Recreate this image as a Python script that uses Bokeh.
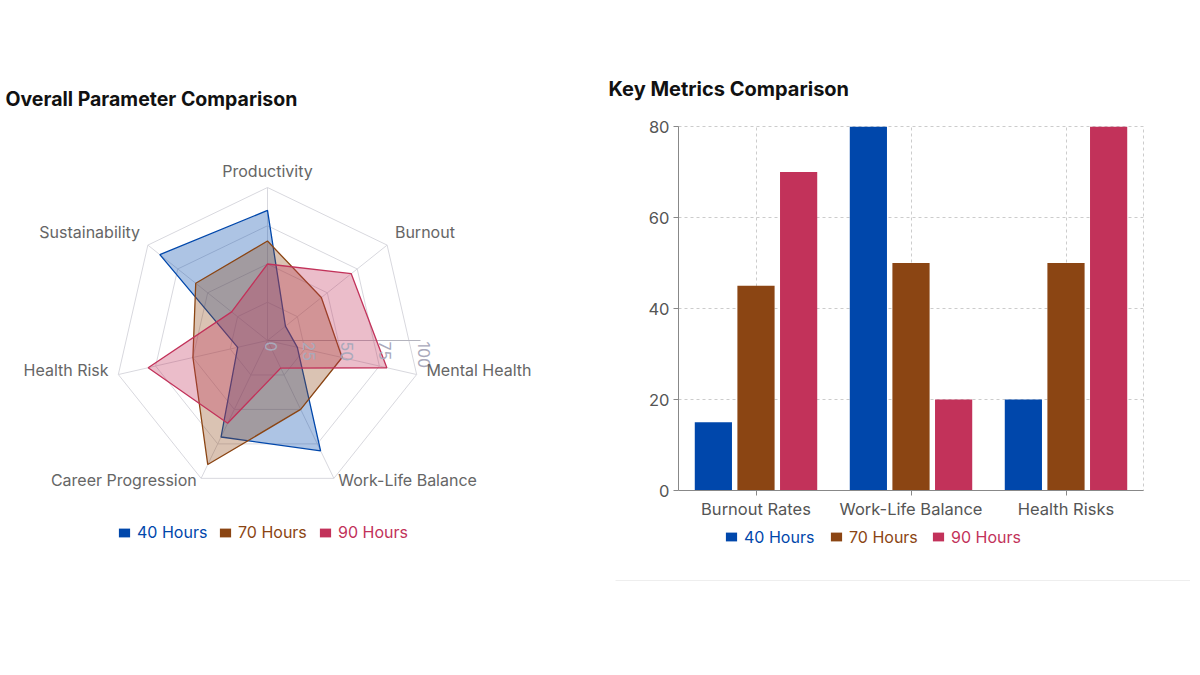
import math
from bokeh.plotting import figure
from bokeh.models import (ColumnDataSource, FactorRange, Legend, LegendItem,
                          Range1d, FixedTicker)
from bokeh.transform import dodge
from bokeh.layouts import row, column
from bokeh.core.properties import value
from bokeh.embed import file_html
from bokeh.resources import INLINE

# ---------------- data ----------------
series_names = ["40 Hours", "70 Hours", "90 Hours"]
series_colors = ["#0047AB", "#8B4513", "#C2325A"]

radar_categories = ["Productivity", "Burnout", "Mental Health", "Work-Life Balance",
                    "Career Progression", "Health Risk", "Sustainability"]
radar_40 = [85, 15, 20, 80, 70, 20, 90]
radar_70 = [65, 45, 50, 50, 90, 50, 60]
radar_90 = [50, 70, 80, 20, 60, 80, 30]
radar_ticks = [0, 25, 50, 75, 100]

bar_categories = ["Burnout Rates", "Work-Life Balance", "Health Risks"]
bar_40 = [15, 80, 20]
bar_70 = [45, 50, 50]
bar_90 = [70, 20, 80]
bar_ticks = [0, 20, 40, 60, 80]

FONT = "Inter"
LABEL_GRAY = "#666666"


def make_legend(fig, name, col, loc):
    # zero-size proxy renderer used only as the legend swatch
    proxy = fig.vbar(x=[0], top=[0], width=0, fill_color=col, line_color=None)
    lg = Legend(items=[LegendItem(label=name, renderers=[proxy])], location=loc,
                orientation="horizontal", border_line_color=None, background_fill_alpha=0,
                padding=0, margin=0, glyph_width=14, glyph_height=11, label_standoff=6,
                label_height=20, label_text_font=FONT, label_text_font_size="16px",
                label_text_color=col, label_text_baseline="middle")
    fig.add_layout(lg)


# ---------------- radar panel ----------------
W1, H1 = 600, 575
S = 1.53                      # pixels per radial unit
CX, CY = 267, 340             # center in figure pixels (from top-left)
rad = figure(width=W1, height=H1, output_backend="svg", toolbar_location=None,
             x_range=Range1d(-CX / S, (W1 - CX) / S),
             y_range=Range1d(-(H1 - CY) / S, CY / S),
             min_border=0, outline_line_color=None, frame_align=False)
rad.axis.visible = False
rad.grid.visible = False
rad.background_fill_color = None
rad.border_fill_color = None

n = len(radar_categories)
angles = [math.pi / 2 - i * 2 * math.pi / n for i in range(n)]


def poly(vals):
    xs = [v * math.cos(a) for v, a in zip(vals, angles)]
    ys = [v * math.sin(a) for v, a in zip(vals, angles)]
    return xs + [xs[0]], ys + [ys[0]]


# rings
for t in radar_ticks[1:]:
    xs, ys = poly([t] * n)
    rad.line(xs, ys, line_color="#d8d8de", line_width=1)
# spokes
for a in angles:
    rad.line([0, 100 * math.cos(a)], [0, 100 * math.sin(a)], line_color="#d8d8de", line_width=1)
# radial axis line
rad.line([0, 100], [0, 0], line_color="#b4b4be", line_width=1)

for vals, col in zip([radar_40, radar_70, radar_90], series_colors):
    xs, ys = poly(vals)
    rad.patch(xs, ys, fill_color=col, fill_alpha=0.32, line_color=col, line_width=1.3)

# radial tick labels (rotated, reading downward)
rad.text(x=[t + 3 / S for t in radar_ticks], y=[-1 / S] * len(radar_ticks),
         text=[str(t) for t in radar_ticks], angle=-math.pi / 2,
         text_align="left", text_baseline="middle", text_font=value(FONT),
         text_font_size="16px", text_color="#a9a9bb")

# category labels
lx, ly, la = [], [], []
off = 10 / S
for a in angles:
    c = math.cos(a)
    lx.append((100 + off) * math.cos(a))
    ly.append((100 + off) * math.sin(a) + 7 / S)
    la.append("center" if abs(c) < 0.1 else ("left" if c > 0 else "right"))
rad.text(x=lx, y=ly, text=radar_categories, text_align=la, text_baseline="middle",
         text_font=value(FONT), text_font_size="16px", text_color=LABEL_GRAY)

# title
rad.text(x=[(5 - CX) / S], y=[(CY - 98) / S], text=["Overall Parameter Comparison"],
         text_align="left", text_baseline="middle", text_font=value(FONT),
         text_font_size="19.5px", text_font_style="bold", text_color="#111111")

for name, col, lxp in zip(series_names, series_colors, [117, 218, 318]):
    make_legend(rad, name, col, (lxp, H1 - 532 - 10))

# ---------------- bar panel ----------------
W2 = 590
BT, FH, BB = 126, 364, 32
bsrc = ColumnDataSource(dict(cat=bar_categories, h40=bar_40, h70=bar_70, h90=bar_90))
bar = figure(width=W2, height=BT + FH + BB, output_backend="svg", toolbar_location=None,
             x_range=FactorRange(*bar_categories, range_padding=0),
             y_range=Range1d(0, 80), frame_align=False,
             min_border_left=78, min_border_right=W2 - 78 - 465,
             min_border_top=BT, min_border_bottom=BB)
bar.background_fill_color = None
bar.border_fill_color = None
bar.outline_line_color = "#cccccc"
bar.outline_line_dash = "3 3"

bar.title.text = "Key Metrics Comparison"
bar.title.align = "left"
bar.title.offset = -70
bar.title.standoff = 51
bar.title.text_font = FONT
bar.title.text_font_size = "20px"
bar.title.text_font_style = "bold"
bar.title.text_color = "#111111"

offsets = [-0.275, 0.0, 0.275]
for key, col, o in zip(["h40", "h70", "h90"], series_colors, offsets):
    bar.vbar(x=dodge("cat", o, range=bar.x_range), top=key, width=0.24, source=bsrc,
             fill_color=col, line_color=None)

bar.yaxis.ticker = FixedTicker(ticks=bar_ticks)
for ax in (bar.xaxis, bar.yaxis):
    ax.axis_line_color = "#888888"
    ax.major_tick_line_color = "#888888"
    ax.minor_tick_line_color = None
    ax.major_tick_in = 0
    ax.major_tick_out = 5
    ax.major_label_text_font = FONT
    ax.major_label_text_font_size = "16.5px"
    ax.major_label_text_color = "#555555"
bar.yaxis.major_label_standoff = 4
bar.xaxis.major_label_standoff = 3
bar.grid.grid_line_color = "#cccccc"
bar.grid.grid_line_dash = "3 3"

# legend strip under the bar chart
LH = 62
bleg = figure(width=W2, height=LH, output_backend="svg", toolbar_location=None,
              x_range=Range1d(0, W2), y_range=Range1d(0, LH), min_border=0,
              outline_line_color=None, frame_align=False)
bleg.axis.visible = False
bleg.grid.visible = False
bleg.background_fill_color = None
bleg.border_fill_color = None
for name, col, lxp in zip(series_names, series_colors, [124, 229, 331]):
    make_legend(bleg, name, col, (lxp, LH - 14.5 - 10))
# faint container edge under the panel
bleg.line([15, W2], [LH - 58, LH - 58], line_color="#eeeeee", line_width=1)

layout = row(rad, column(bar, bleg))
open("out.html", "w").write(file_html(layout, INLINE))
